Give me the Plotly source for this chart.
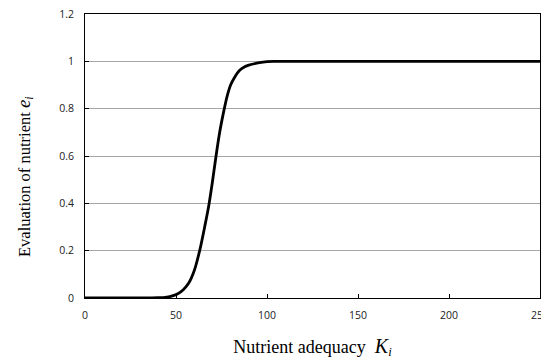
import plotly.graph_objects as go

# Data
adequacy = [0, 10, 20, 30, 40, 45, 48, 51, 54, 57, 60, 63, 66, 68, 70, 72, 74, 76,
            78, 80, 82, 85, 88, 90, 95, 100, 105, 150, 200, 250]
evaluation = [0, 0, 0, 0, 0.001, 0.004, 0.009, 0.018, 0.035, 0.063, 0.115, 0.2, 0.31,
              0.39, 0.49, 0.6, 0.7, 0.78, 0.85, 0.9, 0.93, 0.962, 0.978, 0.984,
              0.993, 0.999, 1, 1, 1, 1]
x_ticks = [0, 50, 100, 150, 200, 250]
y_ticks = [0, 0.2, 0.4, 0.6, 0.8, 1, 1.2]
y_tick_labels = ["0", "0.2", "0.4", "0.6", "0.8", "1", "1.2"]

fig = go.Figure()
fig.add_trace(go.Scatter(
    x=adequacy, y=evaluation, mode="lines",
    line=dict(color="black", width=2.8, shape="spline", smoothing=0.8),
    showlegend=False, hoverinfo="skip",
))

tick_font = dict(family="Open Sans, Noto Sans, sans-serif", size=10.5, color="#222222")
serif = "Liberation Serif, Times New Roman, serif"

fig.update_layout(
    width=541, height=352,
    margin=dict(l=77, r=9, t=6, b=62),
    paper_bgcolor="white", plot_bgcolor="white",
    xaxis=dict(
        range=[0, 250], tickvals=x_ticks, ticktext=[str(v) for v in x_ticks],
        ticks="inside", ticklen=4, tickcolor="black", ticklabelstandoff=7,
        ticklabeloverflow="allow",
        showline=True, linecolor="black", linewidth=1, mirror=True,
        showgrid=False, zeroline=False, tickfont=tick_font,
        title=dict(text="Nutrient adequacy  <i><span style='font-size:20px'>K</span><sub>i</sub></i>",
                   font=dict(family=serif, size=18, color="black"), standoff=19),
        automargin=False,
    ),
    yaxis=dict(
        range=[0, 1.2], tickvals=y_ticks, ticktext=y_tick_labels,
        ticks="inside", ticklen=4, tickcolor="black", ticklabelstandoff=8,
        ticklabeloverflow="allow",
        showline=True, linecolor="black", linewidth=1, mirror=True,
        showgrid=True, gridcolor="#a6a6a6", gridwidth=1, zeroline=False,
        tickfont=tick_font,
        automargin=False,
    ),
    annotations=[dict(
        text="Evaluation of nutrient <i><span style='font-size:19px'>e</span><sub>i</sub></i>",
        xref="paper", yref="paper", x=0, y=0.5, xanchor="center", yanchor="middle",
        xshift=-61, yshift=-21, textangle=-90, showarrow=False,
        font=dict(family=serif, size=16.5, color="black"),
    )],
)

fig.write_html("out.html")
